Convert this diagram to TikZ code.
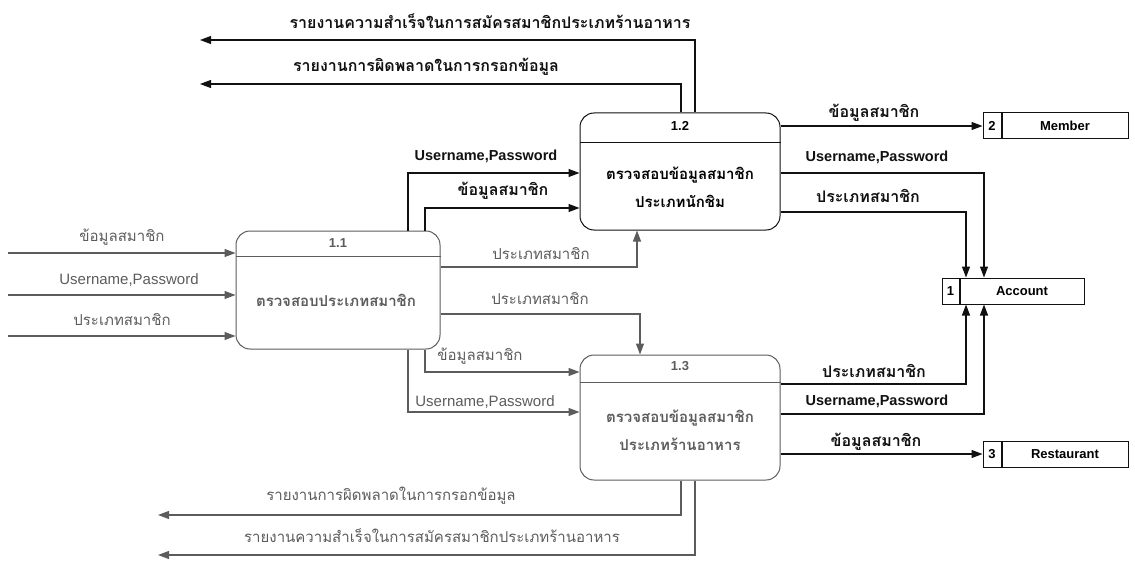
\documentclass[tikz,border=0pt]{standalone}
\usepackage{fontspec}
\setmainfont{Liberation Sans}
\newfontfamily\thai[Script=Thai]{Loma}
\usetikzlibrary{arrows.meta}

\definecolor{ink}{HTML}{111111}
\definecolor{faded}{HTML}{5C5C5C}

\tikzset{
  proc/.style={draw=ink, line width=1pt, rounded corners=14pt, inner sep=0pt,
               minimum width=200pt},
  ptitle/.style={font=\bfseries\fontsize{13}{15}\selectfont, inner sep=1pt},
  pbody/.style={font=\thai\bfseries\fontsize{15}{28}\selectfont, align=center, inner sep=1pt},
  flow/.style={draw=ink, line width=1.1pt, -{Triangle[length=11pt,width=8pt]}},
  lbl/.style={font=\thai\bfseries\fontsize{16}{18}\selectfont, text=ink, inner sep=1pt},
  lbllat/.style={font=\bfseries\fontsize{14.5}{16}\selectfont, text=ink, inner sep=1pt},
  lbldim/.style={font=\thai\fontsize{15}{17}\selectfont, text=faded, inner sep=1pt},
  lbllatdim/.style={font=\fontsize{15}{17}\selectfont, text=faded, inner sep=1pt},
  numcell/.style={draw=ink, line width=1pt, minimum width=17pt, minimum height=26pt,
                  inner sep=0pt, font=\bfseries\fontsize{13}{15}\selectfont},
  namecell/.style={draw=ink, line width=1pt, minimum height=26pt, inner sep=0pt,
                   anchor=west, font=\bfseries\fontsize{13}{15}\selectfont},
  dim/.style={draw=faded, text=faded}
}

\begin{document}
\begin{tikzpicture}[x=1pt, y=-1pt]
\useasboundingbox (0,0) rectangle (1135,567);

% processes
\node[proc, dim, minimum width=204pt, minimum height=118pt] (p11) at (338,290) {};
\draw[faded, line width=1pt] ([yshift=-26pt]p11.north west) -- ([yshift=-26pt]p11.north east);
\node[ptitle, text=faded] (p11t) at ([yshift=-13pt]p11.north) {1.1};
\node[pbody, text=faded] (p11b) at (336,300) {ตรวจสอบประเภทสมาชิก};

\node[proc, minimum height=117pt] (p12) at (680,171.5) {};
\draw[ink, line width=1pt] ([yshift=-30pt]p12.north west) -- ([yshift=-30pt]p12.north east);
\node[ptitle] (p12t) at ([yshift=-13pt]p12.north) {1.2};
\node[pbody] (p12b) at (680,187) {ตรวจสอบข้อมูลสมาชิก\\ประเภทนักชิม};

\node[proc, dim, minimum height=125pt] (p13) at (680,417.5) {};
\draw[faded, line width=1pt] ([yshift=-28pt]p13.north west) -- ([yshift=-28pt]p13.north east);
\node[ptitle, text=faded] (p13t) at ([yshift=-12pt]p13.north) {1.3};
\node[pbody, text=faded] (p13b) at (680,430) {ตรวจสอบข้อมูลสมาชิก\\ประเภทร้านอาหาร};

% data stores
\node[numcell] (accn) at (950.5,291) {1};
\node[namecell, minimum width=124pt] (acc) at (accn.east) {Account};
\node[numcell, minimum width=18pt] (memn) at (992,126) {2};
\node[namecell, minimum width=126pt] (mem) at (memn.east) {Member};
\node[numcell, minimum width=18pt] (resn) at (992,454) {3};
\node[namecell, minimum width=126pt] (res) at (resn.east) {Restaurant};

% free ends
\coordinate (in1) at (8,253);
\coordinate (in2) at (8,295);
\coordinate (in3) at (8,336);
\coordinate (o1) at (200,40);
\coordinate (o2) at (200,84);
\coordinate (o3) at (158,515);
\coordinate (o4) at (158,555);

% inputs of 1.1
\draw[flow, faded] (in1) -- (in1 -| p11.west);
\draw[flow, faded] (in2) -- (in2 -| p11.west);
\draw[flow, faded] (in3) -- (in3 -| p11.west);
\node[lbldim] at (122,237) {ข้อมูลสมาชิก};
\node[lbllatdim] at (129,280) {Username,Password};
\node[lbldim] at (122,320) {ประเภทสมาชิก};

% 1.1 -> 1.2
\draw[flow] ([xshift=70pt]p11.north) |- ([yshift=-1.5pt]p12.west);
\draw[flow] ([xshift=87pt]p11.north) |- ([yshift=-36.5pt]p12.west);
\draw[flow, faded] ([yshift=23pt]p11.east) -| ([xshift=-43pt]p12.south);
\node[lbllat] at (486,156) {Username,Password};
\node[lbl] at (503,191) {ข้อมูลสมาชิก};
\node[lbldim] at (541,254) {ประเภทสมาชิก};

% 1.1 -> 1.3
\draw[flow, faded] ([yshift=-24pt]p11.east) -| ([xshift=-40pt]p13.north);
\draw[flow, faded] ([xshift=87pt]p11.south) |- ([yshift=45.5pt]p13.west);
\draw[flow, faded] ([xshift=70pt]p11.south) |- ([yshift=5.5pt]p13.west);
\node[lbldim] at (540,299) {ประเภทสมาชิก};
\node[lbldim] at (480,356) {ข้อมูลสมาชิก};
\node[lbllatdim] at (485,402) {Username,Password};

% outputs of 1.2
\draw[flow] ([xshift=15pt]p12.north) |- (o1);
\draw[flow] ([xshift=1pt]p12.north) |- (o2);
\node[lbl] at (490,21) {รายงานความสำเร็จในการสมัครสมาชิกประเภทร้านอาหาร};
\node[lbl] at (426,67) {รายงานการผิดพลาดในการกรอกข้อมูล};

\draw[flow] (p12.east |- memn.west) -- (memn.west);
\draw[flow] ([yshift=-1.5pt]p12.east) -| ([xshift=-38pt]acc.north);
\draw[flow] ([yshift=-40.5pt]p12.east) -| ([xshift=-56pt]acc.north);
\node[lbl] at (874,113) {ข้อมูลสมาชิก};
\node[lbllat] at (877,157) {Username,Password};
\node[lbl] at (868,196) {ประเภทสมาชิก};

% outputs of 1.3
\draw[flow] ([yshift=33.5pt]p13.east) -| ([xshift=-56pt]acc.south);
\draw[flow] ([yshift=3.5pt]p13.east) -| ([xshift=-38pt]acc.south);
\draw[flow] (p13.east |- resn.west) -- (resn.west);
\node[lbl] at (874,371) {ประเภทสมาชิก};
\node[lbllat] at (877,401) {Username,Password};
\node[lbl] at (876,442) {ข้อมูลสมาชิก};

\draw[flow, faded] ([xshift=1pt]p13.south) |- (o3);
\draw[flow, faded] ([xshift=15pt]p13.south) |- (o4);
\node[lbldim] at (391,496) {รายงานการผิดพลาดในการกรอกข้อมูล};
\node[lbldim] at (432,536) {รายงานความสำเร็จในการสมัครสมาชิกประเภทร้านอาหาร};
\end{tikzpicture}
\end{document}
